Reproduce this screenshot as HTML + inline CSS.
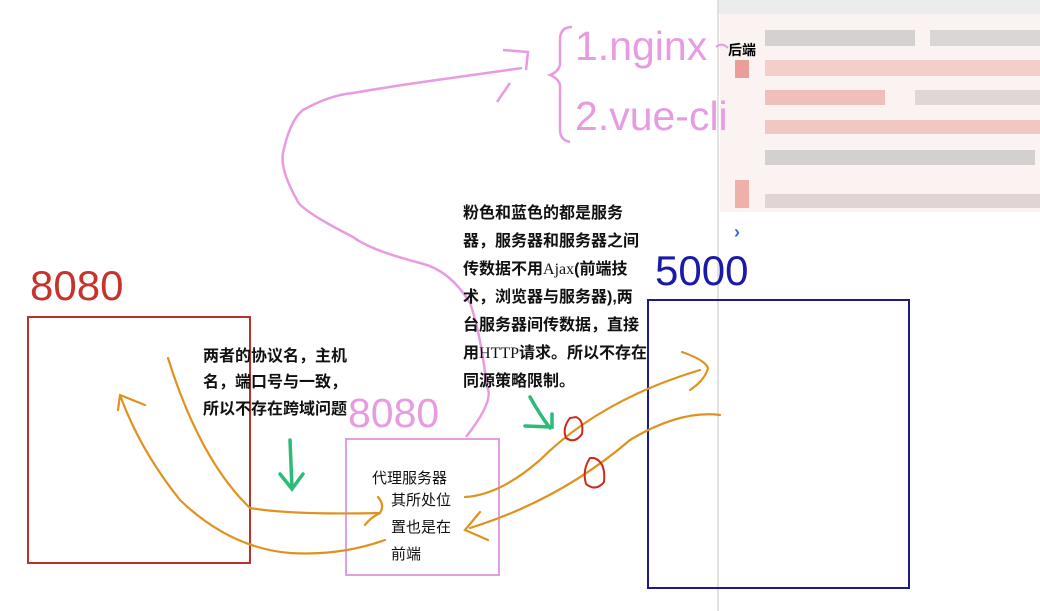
<!DOCTYPE html>
<html><head><meta charset="utf-8"><style>
html,body{margin:0;padding:0;background:#fff;}
svg{display:block}
.cj{font-family:"Liberation Sans","Noto Sans CJK SC",sans-serif;}
</style></head><body>
<svg width="1040" height="611" viewBox="0 0 1040 611" xmlns="http://www.w3.org/2000/svg">
<!-- blurred screenshot panel -->
<rect x="718" y="0" width="322" height="14" fill="#ececec"/>
<rect x="720" y="14" width="320" height="198" fill="#fbf3f2"/>
<g opacity="0.85">
<rect x="765" y="30" width="150" height="16" fill="#cfcccc"/>
<rect x="930" y="30" width="110" height="16" fill="#d5d2d2"/>
<rect x="735" y="60" width="14" height="18" fill="#e58f88"/>
<rect x="765" y="60" width="275" height="16" fill="#f2c9c4"/>
<rect x="765" y="90" width="120" height="15" fill="#efb7b0"/>
<rect x="915" y="90" width="125" height="15" fill="#dcd2d0"/>
<rect x="765" y="120" width="275" height="14" fill="#f0c0ba"/>
<rect x="765" y="150" width="270" height="15" fill="#cdcaca"/>
<rect x="735" y="180" width="14" height="28" fill="#eba39c"/>
<rect x="765" y="194" width="275" height="14" fill="#dccfcf"/>
</g>
<line x1="718" y1="0" x2="718" y2="611" stroke="#d8d8d8" stroke-width="1.5"/>
<text x="728" y="55" class="cj" font-size="14" font-weight="bold" fill="#000">后端</text>
<text x="734" y="238" font-family="Liberation Sans" font-size="18" font-weight="bold" fill="#3a6fc4">›</text>

<!-- pink brace text -->
<path d="M572,27 Q560,27 560,40 L560,65 Q558,72 550,75 Q558,78 560,85 L560,130 Q560,140 570,142" fill="none" stroke="#e79be0" stroke-width="2.5"/>
<text x="575" y="60" font-family="Liberation Sans" font-size="41" fill="#e79be0">1.nginx</text>
<text x="575" y="130" font-family="Liberation Sans" font-size="41" fill="#e79be0">2.vue-cli</text>
<path d="M716,47 Q722,42 728,48" fill="none" stroke="#e79be0" stroke-width="2"/>

<!-- pink curve -->
<path d="M466,437 Q495,400 487,387 Q480,330 470,303 Q450,270 420,263 Q370,250 353,237 Q300,210 297,200 Q280,170 283,153 Q290,120 303,110 Q330,95 353,93 Q400,85 437,80 Q480,74 522,68" fill="none" stroke="#e79be0" stroke-width="2.5"/>
<path d="M503,50 L528,52 L526,70 M510,83 L497,102" fill="none" stroke="#e79be0" stroke-width="2.5"/>

<!-- left 8080 box -->
<text x="30" y="300" font-family="Liberation Sans" font-size="42" fill="#c7332b">8080</text>
<rect x="28" y="317" width="222" height="246" fill="none" stroke="#b8322c" stroke-width="2"/>

<!-- proxy box -->
<text x="348" y="427" font-family="Liberation Sans" font-size="41" fill="#e79be0">8080</text>
<rect x="346" y="439" width="153" height="136" fill="none" stroke="#e0a0e0" stroke-width="2"/>
<text x="372" y="483" class="cj" font-size="15" fill="#111">代理服务器</text>
<text x="391" y="505" class="cj" font-size="15" fill="#111">其所处位</text>
<text x="391" y="532" class="cj" font-size="15" fill="#111">置也是在</text>
<text x="391" y="559" class="cj" font-size="15" fill="#111">前端</text>

<!-- 5000 box -->
<text x="655" y="285" font-family="Liberation Sans" font-size="42" fill="#1a1aa8">5000</text>
<rect x="648" y="300" width="261" height="288" fill="none" stroke="#1b1b8e" stroke-width="2"/>

<!-- notes -->
<g class="cj" font-size="16" font-weight="bold" fill="#111">
<text x="203" y="361">两者的协议名，主机</text>
<text x="203" y="387">名，端口号与一致，</text>
<text x="203" y="414">所以不存在跨域问题</text>
<text x="463" y="218">粉色和蓝色的都是服务</text>
<text x="463" y="246">器，服务器和服务器之间</text>
<text x="463" y="274">传数据不用<tspan font-family="Liberation Serif" font-weight="normal">Ajax</tspan>(前端技</text>
<text x="463" y="302">术，浏览器与服务器),两</text>
<text x="463" y="330">台服务器间传数据，直接</text>
<text x="463" y="358">用<tspan font-family="Liberation Serif" font-weight="normal">HTTP</tspan>请求。所以不存在</text>
<text x="463" y="386">同源策略限制。</text>
</g>

<!-- green arrows -->
<path d="M290,440 L292,488 M280,474 L292,489 L303,474" fill="none" stroke="#2dbb7a" stroke-width="3.5" stroke-linecap="round"/>
<path d="M530,397 Q540,415 550,428 M525,426 L552,427 L552,414" fill="none" stroke="#2dbb7a" stroke-width="3.5" stroke-linecap="round"/>

<!-- orange arrows -->
<g fill="none" stroke="#e0921e" stroke-width="2.2" stroke-linecap="round">
<path d="M168,358 Q200,460 250,508 Q290,515 380,513 Q385,505 378,497 M380,513 Q370,518 365,525"/>
<path d="M385,540 Q340,556 290,553 Q230,548 180,500 Q140,450 120,395 M120,395 L118,410 M120,395 L145,405"/>
<path d="M465,497 Q500,495 540,460 Q600,400 700,370 M682,352 Q705,360 708,368 Q705,380 690,390"/>
<path d="M720,415 Q680,410 630,440 Q560,500 470,528 M480,512 L465,530 L488,540"/>
</g>
<!-- red circles -->
<path d="M570,418 Q562,428 566,438 Q575,444 582,434 Q584,420 576,417 Z" fill="none" stroke="#d0281c" stroke-width="2"/>
<path d="M590,458 Q582,470 586,484 Q596,492 604,482 Q606,462 594,458 Z" fill="none" stroke="#d0281c" stroke-width="2"/>
</svg>
</body></html>
